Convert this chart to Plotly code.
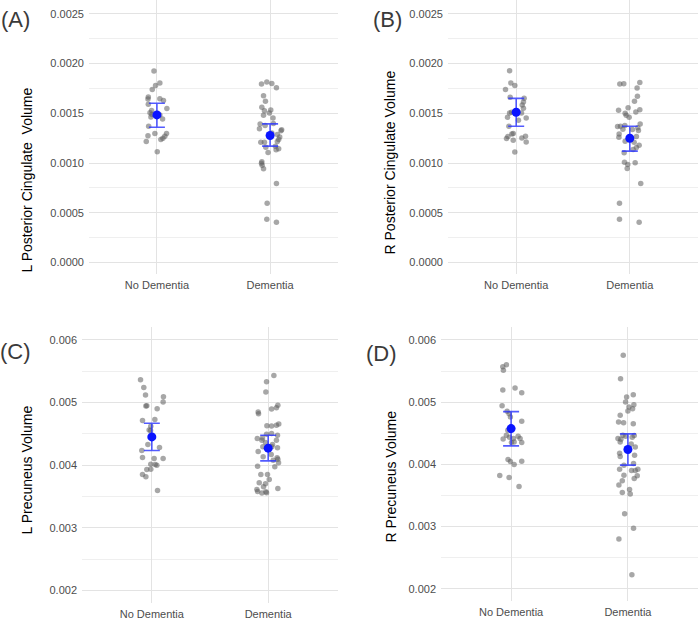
import plotly.graph_objects as go

W, H = 700, 620

categories = ["No Dementia", "Dementia"]

# ---------- Panel A: L Posterior Cingulate Volume ----------
a_nd_vals = [0.001926, 0.001806, 0.001779, 0.001739, 0.001665, 0.001645, 0.001648, 0.001628,
             0.001591, 0.001548, 0.001528, 0.001505, 0.001488, 0.001484, 0.001444, 0.001464,
             0.001371, 0.001297, 0.001274, 0.001297, 0.001270, 0.001250, 0.001237, 0.001217,
             0.001113]
a_nd_jit = [-0.026, 0.026, -0.012, -0.041, -0.076, -0.079, 0.026, 0.058,
            -0.076, 0.088, -0.047, -0.061, -0.044, 0.026, 0.050, -0.053,
            -0.073, -0.018, -0.079, 0.085, 0.070, 0.053, 0.035, -0.094,
            0.003]
a_d_vals = [0.001795, 0.001815, 0.001801, 0.001758, 0.001678, 0.001621, 0.001561, 0.001527,
            0.001534, 0.001504, 0.001481, 0.001454, 0.001394, 0.001377, 0.001397, 0.001344,
            0.001334, 0.001324, 0.001303, 0.001287, 0.001263, 0.001237, 0.001210, 0.001210,
            0.001217, 0.001170, 0.001143, 0.001133, 0.001160, 0.001106, 0.001013, 0.000999,
            0.000979, 0.000943, 0.000795, 0.000595, 0.000434, 0.000404]
a_d_jit = [-0.076, -0.029, 0.015, 0.056, -0.058, -0.041, -0.073, -0.050,
           0.006, -0.006, -0.058, 0.026, -0.088, -0.044, 0.029, -0.094,
           0.102, 0.096, 0.015, 0.064, 0.085, 0.076, -0.082, -0.050,
           0.064, 0.047, 0.076, 0.053, -0.038, -0.018, -0.073, -0.076,
           -0.070, -0.058, 0.056, -0.026, -0.029, 0.056]
a_mean = [0.001484, 0.001277]
a_lo = [0.001360, 0.001170]
a_hi = [0.001601, 0.001394]

# ---------- Panel B: R Posterior Cingulate Volume ----------
b_nd_vals = [0.001928, 0.001805, 0.001781, 0.001741, 0.001661, 0.001651, 0.001614, 0.001584,
             0.001551, 0.001504, 0.001511, 0.001504, 0.001460, 0.001454, 0.001430, 0.001370,
             0.001297, 0.001293, 0.001267, 0.001247, 0.001270, 0.001253, 0.001230, 0.001213,
             0.001110]
b_nd_jit = [-0.058, -0.047, -0.012, -0.094, -0.053, 0.070, 0.064, 0.053,
            0.064, -0.058, -0.041, 0.047, -0.076, 0.088, 0.020, -0.064,
            -0.026, -0.038, -0.073, -0.085, 0.082, 0.050, -0.026, 0.088,
            -0.012]
b_d_vals = [0.001795, 0.001798, 0.001811, 0.001755, 0.001671, 0.001621, 0.001557, 0.001531,
            0.001537, 0.001514, 0.001501, 0.001481, 0.001460, 0.001394, 0.001370, 0.001367,
            0.001377, 0.001354, 0.001340, 0.001337, 0.001327, 0.001293, 0.001260, 0.001267,
            0.001220, 0.001210, 0.001180, 0.001156, 0.001136, 0.001103, 0.001009, 0.000986,
            0.000946, 0.001003, 0.000795, 0.000595, 0.000434, 0.000404]
b_d_jit = [-0.088, -0.053, 0.088, 0.064, 0.067, 0.041, -0.015, -0.099,
           0.088, 0.053, -0.041, -0.032, -0.006, 0.091, -0.082, -0.108,
           -0.044, 0.070, -0.061, 0.023, 0.076, -0.094, -0.096, 0.058,
           -0.041, 0.038, 0.082, 0.058, 0.029, -0.050, -0.047, -0.018,
           -0.023, 0.047, 0.096, -0.091, -0.091, 0.082]
b_mean = [0.001511, 0.001250]
b_lo = [0.001370, 0.001120]
b_hi = [0.001651, 0.001370]

# ---------- Panel C: L Precuneus Volume ----------
c_nd_vals = [0.005363, 0.005241, 0.005119, 0.005093, 0.005008, 0.004944, 0.004950, 0.004902,
             0.004711, 0.004727, 0.004621, 0.004562, 0.004552, 0.004329, 0.004281, 0.004233,
             0.004122, 0.004106, 0.004106, 0.004016, 0.004000, 0.004011, 0.003931, 0.003936,
             0.003851, 0.003814, 0.003597]
c_nd_jit = [-0.097, -0.069, -0.054, 0.100, 0.097, -0.051, -0.043, 0.046,
            -0.080, 0.026, -0.009, -0.023, -0.011, -0.034, 0.066, -0.086,
            -0.080, 0.097, 0.020, -0.009, 0.043, 0.029, -0.043, -0.009,
            -0.080, -0.051, 0.049]
c_d_vals = [0.005432, 0.005332, 0.005167, 0.004955, 0.004918, 0.004897, 0.004849, 0.004822,
            0.004658, 0.004637, 0.004631, 0.004626, 0.004493, 0.004504, 0.004477, 0.004424,
            0.004435, 0.004398, 0.004361, 0.004398, 0.004329, 0.004292, 0.004276, 0.004292,
            0.004218, 0.004170, 0.004133, 0.004117, 0.004080, 0.004095, 0.004037, 0.003973,
            0.003984, 0.003851, 0.003851, 0.003772, 0.003703, 0.003719, 0.003655, 0.003629,
            0.003613, 0.003581, 0.003576, 0.003554, 0.003560]
c_d_jit = [0.049, -0.014, -0.020, 0.083, 0.071, 0.029, -0.086, -0.083,
           0.091, 0.071, -0.011, 0.029, -0.014, 0.029, 0.080, -0.094,
           -0.049, -0.054, -0.023, 0.071, 0.037, 0.031, 0.080, -0.046,
           -0.086, 0.026, -0.043, 0.077, 0.043, 0.083, 0.089, 0.057,
           -0.091, -0.063, -0.006, 0.009, -0.023, -0.077, -0.040, 0.083,
           -0.097, -0.091, -0.020, -0.054, -0.014]
c_mean = [0.004451, 0.004271]
c_lo = [0.004233, 0.004069]
c_hi = [0.004668, 0.004477]

# ---------- Panel D: R Precuneus Volume ----------
d_nd_vals = [0.005600, 0.005567, 0.005514, 0.005194, 0.005226, 0.005151, 0.004943, 0.004852,
             0.004814, 0.004761, 0.004692, 0.004547, 0.004467, 0.004435, 0.004409, 0.004414,
             0.004360, 0.004350, 0.004077, 0.004045, 0.003997, 0.004051, 0.003821, 0.003789,
             0.003645, 0.004414, 0.004350, 0.004451]
d_nd_jit = [-0.040, -0.071, -0.066, -0.071, 0.034, 0.091, -0.077, -0.034,
            -0.017, -0.006, 0.091, -0.028, -0.040, -0.014, -0.068, 0.077,
            0.026, 0.091, -0.026, -0.006, 0.026, 0.091, -0.097, -0.017,
            0.068, 0.020, 0.003, 0.060]
d_d_vals = [0.005754, 0.005375, 0.005119, 0.005081, 0.005001, 0.004959, 0.004895, 0.004921,
            0.004857, 0.004788, 0.004681, 0.004670, 0.004654, 0.004467, 0.004414, 0.004462,
            0.004360, 0.004328, 0.004280, 0.004179, 0.004126, 0.004147, 0.003987, 0.004013,
            0.003923, 0.003901, 0.003901, 0.003923, 0.003816, 0.003773, 0.003826, 0.003736,
            0.003666, 0.003597, 0.003549, 0.003522, 0.003207, 0.002972, 0.002801, 0.002224,
            0.004403, 0.004451, 0.004435]
d_d_jit = [-0.040, -0.063, 0.046, -0.011, -0.020, 0.051, 0.040, 0.009,
           0.000, -0.066, -0.080, -0.037, 0.046, -0.043, -0.085, 0.054,
           -0.066, 0.028, 0.063, -0.071, -0.066, 0.057, -0.034, 0.048,
           -0.071, 0.031, 0.063, 0.085, 0.080, 0.054, -0.034, -0.048,
           -0.077, 0.014, -0.048, 0.020, -0.028, 0.048, -0.077, 0.034,
           -0.060, -0.020, 0.037]
d_mean = [0.004574, 0.004238]
d_lo = [0.004296, 0.003987]
d_hi = [0.004847, 0.004489]

y_titles = ["L Posterior Cingulate  Volume", "R Posterior Cingulate Volume",
            "L Precuneus Volume", "R Precuneus Volume"]
panel_tags = ["(A)", "(B)", "(C)", "(D)"]

# ---------- layout geometry (pixels) ----------
panels = [
    dict(nd=(a_nd_vals, a_nd_jit), d=(a_d_vals, a_d_jit), m=(a_mean, a_lo, a_hi),
         xpx=(89, 338), ypx=(0, 275), yr=(-0.000117, 0.00264), dt=0.0005, fmt=".4f",
         tag=(15, 20), title=(27, 181)),
    dict(nd=(b_nd_vals, b_nd_jit), d=(b_d_vals, b_d_jit), m=(b_mean, b_lo, b_hi),
         xpx=(448, 698), ypx=(0, 275), yr=(-0.000117, 0.00264), dt=0.0005, fmt=".4f",
         tag=(387, 20), title=(390, 163)),
    dict(nd=(c_nd_vals, c_nd_jit), d=(c_d_vals, c_d_jit), m=(c_mean, c_lo, c_hi),
         xpx=(82, 338), ypx=(328, 605), yr=(0.001798, 0.006207), dt=0.001, fmt=".3f",
         tag=(15, 353), title=(27, 472)),
    dict(nd=(d_nd_vals, d_nd_jit), d=(d_d_vals, d_d_jit), m=(d_mean, d_lo, d_hi),
         xpx=(441, 698), ypx=(328, 603), yr=(0.001803, 0.006208), dt=0.001, fmt=".3f",
         tag=(381, 355), title=(391, 478)),
]

FONT = "Liberation Sans, Arial, sans-serif"
GRID = "#e3e3e3"
MINOR = "#efefef"
PT = "rgba(95,95,95,0.55)"

fig = go.Figure()
layout = dict(width=W, height=H, margin=dict(l=0, r=0, t=0, b=0),
              paper_bgcolor="white", plot_bgcolor="white", showlegend=False,
              font=dict(family=FONT))
annotations = []

for i, p in enumerate(panels):
    n = "" if i == 0 else str(i + 1)
    xa, ya = "x" + n, "y" + n
    for ci, (vals, jit) in enumerate([p["nd"], p["d"]]):
        fig.add_trace(go.Scatter(
            x=[ci + j for j in jit], y=vals, mode="markers", xaxis=xa, yaxis=ya,
            marker=dict(size=5.5, color=PT, line=dict(width=0)), hoverinfo="skip"))
    mean, lo, hi = p["m"]
    fig.add_trace(go.Scatter(
        x=[0, 1], y=mean, mode="markers", xaxis=xa, yaxis=ya,
        marker=dict(size=9, color="#0a14ff"),
        error_y=dict(type="data", symmetric=False,
                     array=[h - m for h, m in zip(hi, mean)],
                     arrayminus=[m - l for m, l in zip(mean, lo)],
                     color="rgba(40,50,255,0.8)", thickness=1.6, width=8)))
    x0, x1 = p["xpx"]
    y0, y1 = p["ypx"]
    layout["xaxis" + n] = dict(domain=[x0 / W, x1 / W], anchor=ya, range=[-0.6, 1.6],
                              tickmode="array", tickvals=[0, 1], ticktext=categories,
                              showgrid=True, gridcolor=GRID, gridwidth=1, zeroline=False,
                              showline=False, ticks="", ticklabelstandoff=3,
                              tickfont=dict(size=11, color="#4d4d4d", family=FONT))
    layout["yaxis" + n] = dict(domain=[1 - y1 / H, 1 - y0 / H], anchor=xa, range=list(p["yr"]),
                              tickmode="linear", tick0=0, dtick=p["dt"], tickformat=p["fmt"],
                              showgrid=True, gridcolor=GRID, gridwidth=1, zeroline=False,
                              showline=False, ticks="", ticklabelstandoff=4,
                              minor=dict(tick0=0, dtick=p["dt"] / 2, showgrid=True,
                                         gridcolor=MINOR, gridwidth=1),
                              tickfont=dict(size=11, color="#4d4d4d", family=FONT))
    tx, ty = p["tag"]
    annotations.append(dict(text=panel_tags[i], x=tx / W, y=1 - ty / H, xref="paper",
                            yref="paper", xanchor="center", yanchor="middle", showarrow=False,
                            font=dict(size=22, color="#3a3a3a", family=FONT)))
    ttx, tty = p["title"]
    annotations.append(dict(text=y_titles[i], x=ttx / W, y=1 - tty / H, xref="paper",
                            yref="paper", xanchor="center", yanchor="middle", showarrow=False,
                            textangle=-90, font=dict(size=14, color="black", family=FONT)))

layout["annotations"] = annotations
fig.update_layout(**layout)
fig.write_html("out.html")
